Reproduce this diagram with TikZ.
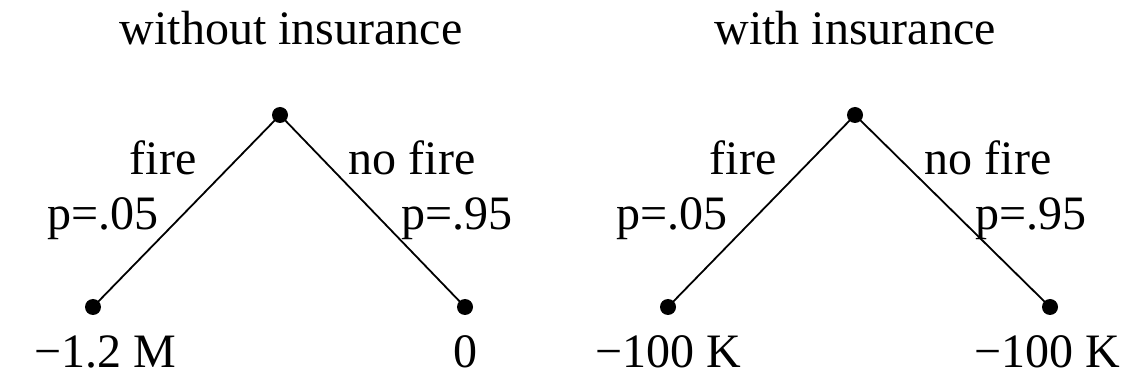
\documentclass[tikz,border=0pt]{standalone}
\usepackage{fontspec}
\setmainfont{Liberation Serif}
\begin{document}
\begin{tikzpicture}[x=1pt,y=1pt,
  dot/.style={circle,fill=black,inner sep=0pt,minimum size=16pt},
  lbl/.style={anchor=base,inner sep=0pt,font=\fontsize{48}{58}\selectfont},
  edge/.style={line width=1.8pt}]
\useasboundingbox (0,0) rectangle (1125,375);
% left tree
\node[dot] (lt) at (280,260) {};
\node[dot] (ll) at (93,68) {};
\node[dot] (lr) at (465,68) {};
\draw[edge] (lt.center) -- (ll.center);
\draw[edge] (lt.center) -- (lr.center);
\node[lbl] (lh) at (291,330) {without insurance};
\node[lbl] (lf) at (163,200) {fire};
\node[lbl] (lp1) at (103,145) {p=.05};
\node[lbl] (lnf) at (412,200) {no fire};
\node[lbl] (lp2) at (457,145) {p=.95};
\node[lbl] (lv1) at (105,7) {−1.2 M};
\node[lbl] (lv2) at (465,7) {0};
% right tree
\node[dot] (rt) at (855,260) {};
\node[dot] (rl) at (668,68) {};
\node[dot] (rr) at (1050,68) {};
\draw[edge] (rt.center) -- (rl.center);
\draw[edge] (rt.center) -- (rr.center);
\node[lbl] (rh) at (855,330) {with insurance};
\node[lbl] (rf) at (743,200) {fire};
\node[lbl] (rp1) at (672,145) {p=.05};
\node[lbl] (rnf) at (988,200) {no fire};
\node[lbl] (rp2) at (1031,145) {p=.95};
\node[lbl] (rv1) at (668,7) {−100 K};
\node[lbl] (rv2) at (1047,7) {−100 K};
\end{tikzpicture}
\end{document}
